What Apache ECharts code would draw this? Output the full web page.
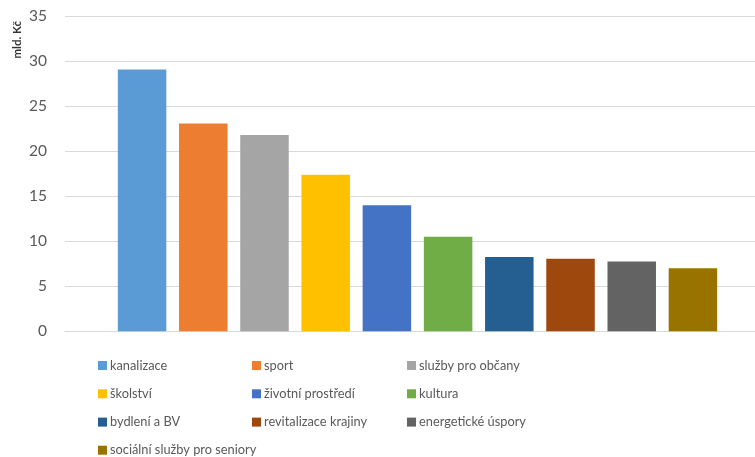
<!DOCTYPE html>
<html>
<head>
<meta charset="utf-8">
<script src="https://cdn.jsdelivr.net/npm/echarts@6/dist/echarts.min.js"></script>
<style>html,body{margin:0;padding:0;background:#fff}#c{width:755px;height:457px}</style>
</head>
<body>
<div id="c"></div>
<script>
const categories = ['kanalizace','sport','služby pro občany','školství','životní prostředí','kultura','bydlení a BV','revitalizace krajiny','energetické úspory','sociální služby pro seniory'];
const values = [29.1, 23.1, 21.8, 17.4, 14.0, 10.5, 8.25, 8.05, 7.75, 7.0];
const colors = ['#5B9BD5','#ED7D31','#A5A5A5','#FFC000','#4472C4','#70AD47','#255E91','#9E480E','#636363','#997300'];
const yTicks = [0,5,10,15,20,25,30,35];
const unitLabel = 'mld. Kč';

const FONT = 'Lato';
const series = categories.map((name, i) => ({
  name: name,
  type: 'bar',
  xAxisIndex: 1,
  yAxisIndex: 1,
  data: [values[i]],
  barWidth: 48.5,
  barGap: '26.2%',
  itemStyle: { color: colors[i] },
  emphasis: { disabled: true },
  animation: false
}));

// legend blocks: [item indices, left, top]
const legendBlocks = [
  [[0,3,6], 98, 357.5],
  [[1,4,7], 252, 357.5],
  [[2,5,8], 407, 357.5],
  [[9], 98, 442.2]
];
const legends = legendBlocks.map(b => ({
  orient: 'vertical',
  left: b[1],
  top: b[2],
  itemWidth: 9,
  itemHeight: 9,
  itemGap: 12.3,
  padding: 0,
  selectedMode: false,
  icon: 'rect',
  data: b[0].map(i => categories[i]),
  textStyle: { fontFamily: FONT, fontSize: 12.8, color: '#595959', lineHeight: 16, padding: [0,0,0,-2] }
}));

const gridTop = 16.3, gridBottom = 125.7;
const chart = echarts.init(document.getElementById('c'), null, { renderer: 'canvas' });
chart.setOption({
  animation: false,
  color: colors,
  grid: [
    { left: 65, right: 0, top: gridTop, bottom: gridBottom },
    { left: 80, right: 0, top: gridTop, bottom: gridBottom }
  ],
  xAxis: [{
    type: 'category',
    gridIndex: 0,
    data: ['a'],
    axisLine: { show: true, lineStyle: { color: '#D9D9D9', width: 1 } },
    axisTick: { show: false },
    axisLabel: { show: false }
  }, {
    type: 'category',
    gridIndex: 1,
    data: ['a'],
    axisLine: { show: false },
    axisTick: { show: false },
    axisLabel: { show: false }
  }],
  yAxis: [{
    type: 'value',
    gridIndex: 0,
    min: yTicks[0],
    max: yTicks[yTicks.length - 1],
    interval: 5,
    axisLine: { show: false },
    axisTick: { show: false },
    splitLine: { lineStyle: { color: '#D9D9D9', width: 1 } },
    axisLabel: { fontFamily: FONT, fontSize: 15.5, color: '#595959', margin: 18 }
  }, {
    type: 'value',
    gridIndex: 1,
    min: yTicks[0],
    max: yTicks[yTicks.length - 1],
    interval: 5,
    show: false,
    splitLine: { show: false }
  }],
  legend: legends,
  graphic: [{
    type: 'text',
    left: 11,
    top: 21,
    rotation: Math.PI / 2,
    style: { text: unitLabel, fontFamily: FONT, fontSize: 11.5, fontWeight: 'bold', fill: '#333333' }
  }],
  series: series
});
</script>
</body>
</html>
